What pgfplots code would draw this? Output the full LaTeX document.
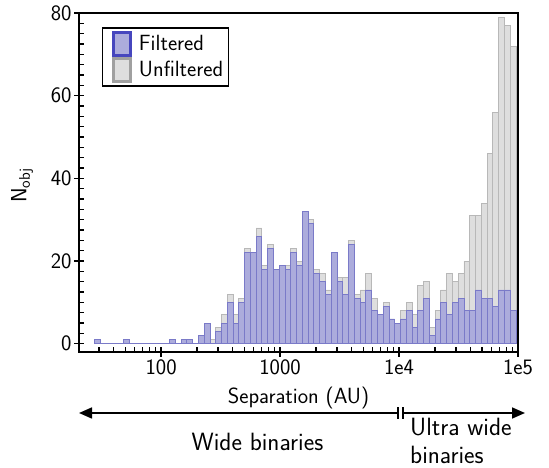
\documentclass[border=0pt]{standalone}
\usepackage{fontspec}
\usepackage{pgfplots}
\usepackage{pgfplotstable}
\pgfplotsset{compat=1.18}
\usetikzlibrary{arrows.meta}
\renewcommand{\familydefault}{\sfdefault}

\definecolor{filtfill}{RGB}{172,172,220}
\definecolor{filtedge}{RGB}{122,122,200}
\definecolor{filtlgd}{RGB}{70,70,190}
\definecolor{unffill}{RGB}{222,222,222}
\definecolor{unfedge}{RGB}{184,184,184}
\definecolor{unflgd}{RGB}{160,160,160}
\newcommand{\lbl}{\fontsize{22}{26}\selectfont}
\newcommand{\ann}{\fontsize{25}{28}\selectfont}

% counts per log-spaced separation bin (F = filtered, U = unfiltered)
% last row only closes the final interval
\pgfplotstableread{
bin F U
0 1 1
1 0 0
2 0 0
3 0 0
4 0 0
5 1 1
6 0 0
7 0 0
8 0 0
9 0 0
10 0 0
11 0 0
12 0 0
13 1 1
14 0 0
15 1 1
16 1 1
17 0 0
18 2 2
19 5 5
20 0 1
21 3 4
22 5 7
23 10 12
24 5 7
25 10 11
26 22 23
27 22 22
28 26 28
29 18 19
30 23 24
31 18 18
32 19 19
33 18 19
34 22 23
35 19 20
36 32 32
37 29 30
38 17 18
39 15 17
40 12 13
41 22 22
42 15 16
43 12 16
44 24 25
45 11 12
46 10 13
47 13 17
48 8 11
49 7 7
50 9 10
51 6 6
52 5 5
53 6 8
54 8 10
55 4 7
56 8 14
57 11 15
58 2 4
59 6 8
60 10 13
61 7 17
62 10 15
63 11 17
64 8 20
65 8 31
66 13 31
67 11 34
68 11 46
69 9 56
70 13 79
71 13 77
72 8 72
73 0 0
}\sepdata

\begin{document}
\begin{tikzpicture}
\begin{axis}[
    at={(0pt,0pt)}, anchor=south west,
    scale only axis, width=439pt, height=339pt,
    xmode=log, xmin=20.4, xmax=1e5,
    ymin=-2, ymax=80,
    xtick={100,1000,10000,100000},
    xticklabels={100,1000,1e4,1e5},
    minor xtick={30,40,50,60,70,80,90,200,300,400,500,600,700,800,900,
        2000,3000,4000,5000,6000,7000,8000,9000,
        20000,30000,40000,50000,60000,70000,80000,90000},
    ytick={0,20,40,60,80},
    minor y tick num=7,
    xtick pos=bottom, ytick pos=left,
    axis line style={line width=1.6pt},
    tick align=center,
    major tick length=10pt, minor tick length=5pt,
    tick style={black, line width=1.4pt},
    minor x tick style={yshift=2.5pt},
    minor y tick style={xshift=2.5pt},
    ticklabel style={font=\lbl},
    xticklabel style={yshift=1pt},
    yticklabel style={xshift=1pt},
    /pgf/number format/assume math mode=true,
    xlabel={Separation (AU)},
    ylabel={N\textsubscript{obj}},
    label style={font=\lbl},
    xlabel style={at={(axis description cs:0.5,0)}, anchor=center, yshift=-46pt},
    ylabel style={at={(axis description cs:0,0.5)}, anchor=center, yshift=57pt, xshift=-3pt},
    reverse legend,
    legend style={at={(0.0517,0.958)}, anchor=north west, draw=black,
        line width=1.5pt, font=\lbl, row sep=0pt, inner sep=3pt,
        cells={anchor=west}},
]
\addplot[ybar interval, fill=unffill, draw=unfedge, line width=0.8pt,
    legend image code/.code={
        \path[draw=none, fill=none] (0pt,0pt) -- (31.5pt,0pt);
        \draw[fill=unffill, draw=unflgd, line width=3pt] (8pt,-11.5pt) rectangle (25pt,11.5pt);}]
    table[x expr={10^(1.4398+0.04853*\coordindex)}, y=U] {\sepdata};
\addlegendentry{Unfiltered}
\addplot[ybar interval, fill=filtfill, draw=filtedge, line width=0.8pt,
    legend image code/.code={
        \path[draw=none, fill=none] (0pt,0pt) -- (31.5pt,0pt);
        \draw[fill=filtfill, draw=filtlgd, line width=3pt] (8pt,-11.5pt) rectangle (25pt,11.5pt);}]
    table[x expr={10^(1.4398+0.04853*\coordindex)}, y=F] {\sepdata};
\addlegendentry{Filtered}
\end{axis}

% regime arrows below the axis
\draw[line width=1.6pt, -{Triangle[length=13pt, width=11pt]}] (319pt,-61pt) -- (0pt,-61pt);
\draw[line width=1.6pt, -{Triangle[length=13pt, width=11pt]}] (324pt,-61pt) -- (446pt,-61pt);
\draw[line width=1.6pt] (319pt,-67pt) -- (319pt,-55pt);
\draw[line width=1.6pt] (324pt,-67pt) -- (324pt,-55pt);
\node[font=\ann] at (178.5pt,-90pt) {Wide binaries};
\node[font=\ann, anchor=west, align=left, inner sep=0pt] at (331pt,-88.5pt) {Ultra wide\\binaries};

\pgfresetboundingbox
\path[use as bounding box] (-79pt,-116pt) rectangle (470pt,352pt);
\end{tikzpicture}
\end{document}
